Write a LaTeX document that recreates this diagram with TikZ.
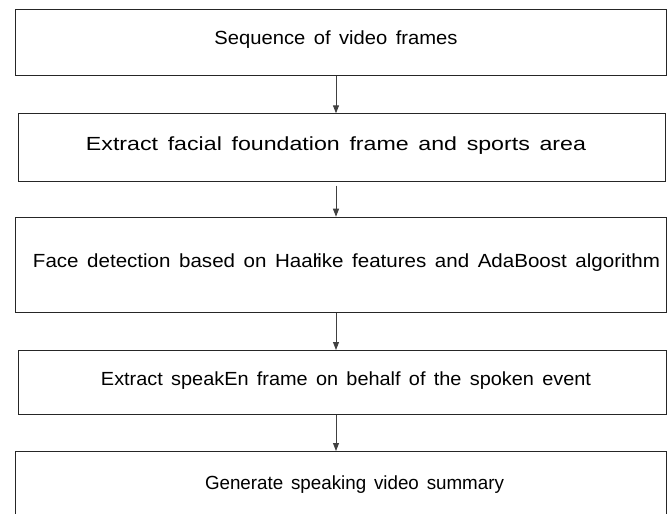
\documentclass[tikz,border=0pt]{standalone}
\usepackage{fontspec}
\usepackage{graphicx}
\setmainfont{Liberation Sans}[WordSpace=1.5]
\usetikzlibrary{arrows.meta}
\newcommand{\fittext}[2]{\resizebox{#1}{\height}{#2}}
\tikzset{
  stepbox/.style={draw=black!85, line width=0.9pt, rectangle, inner sep=0pt, anchor=north west},
  txt/.style={font=\fontsize{19}{22}\selectfont, text=black, inner sep=0pt},
  arr/.style={draw=black!75, line width=0.9pt, -{Triangle[length=8pt,width=6pt]}}
}
\begin{document}
\begin{tikzpicture}[x=1pt,y=-1pt]
\useasboundingbox (0,0) rectangle (670,514);
\clip (0,0) rectangle (670,514);
\coordinate (ax) at (336,0);
\node[stepbox, minimum width=650.7pt, minimum height=66pt] (b1) at (15.3,9.3) {};
\node[stepbox, minimum width=646.7pt, minimum height=67.4pt] (b2) at (18.3,113.3) {};
\node[stepbox, minimum width=650.7pt, minimum height=95pt] (b3) at (15.3,216.7) {};
\node[stepbox, minimum width=647.7pt, minimum height=64.3pt] (b4) at (18.3,350) {};
\node[stepbox, minimum width=650.7pt, minimum height=80pt] (b5) at (15.3,451) {};
\node[txt] (t1) at (336,40) {\fittext{243pt}{Sequence of video frames}};
\node[txt] (t2) at (336,146) {\fittext{500pt}{Extract facial foundation frame and sports area}};
\node[txt] (t3) at (346.5,263) {\fittext{627pt}{Face detection based on Haa\makebox[0pt][l]{r}like features and AdaBoost algorithm}};
\node[txt] (t4) at (346,381) {\fittext{490pt}{Extract speakEn frame on behalf of the spoken event}};
\node[txt] (t5) at (354.5,485) {\fittext{299pt}{Generate speaking video summary}};
\draw[arr] (b1.south -| ax) -- (b2.north -| ax);
\draw[arr, shorten <=4pt] (b2.south -| ax) -- (b3.north -| ax);
\draw[arr] (b3.south -| ax) -- (b4.north -| ax);
\draw[arr] (b4.south -| ax) -- (b5.north -| ax);
\end{tikzpicture}
\end{document}
